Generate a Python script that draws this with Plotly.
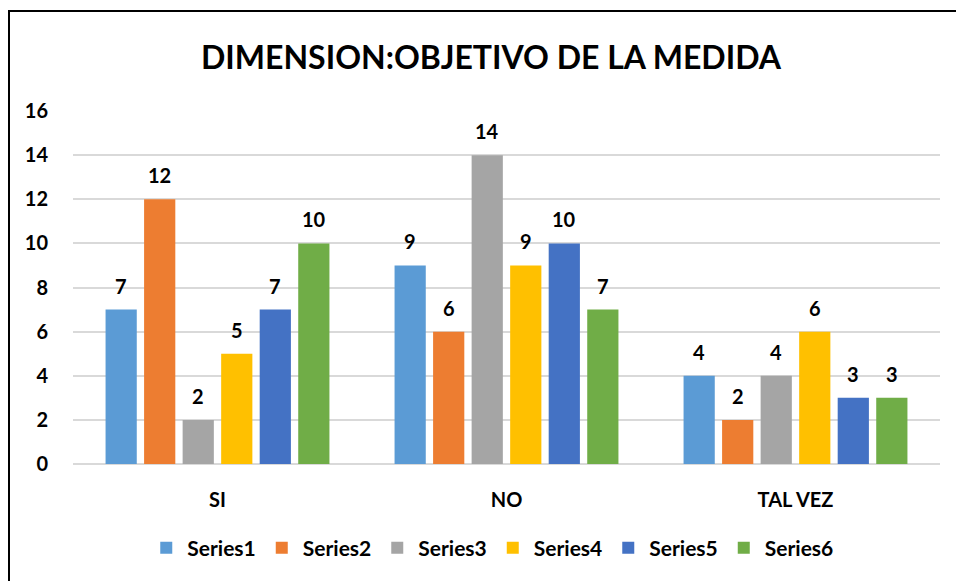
import plotly.graph_objects as go

categories = ["SI", "NO", "TAL VEZ"]
series_names = ["Series1", "Series2", "Series3", "Series4", "Series5", "Series6"]
series1 = [7, 9, 4]
series2 = [12, 6, 2]
series3 = [2, 14, 4]
series4 = [5, 9, 6]
series5 = [7, 10, 3]
series6 = [10, 7, 3]
all_values = [series1, series2, series3, series4, series5, series6]
colors = ["#5B9BD5", "#ED7D31", "#A5A5A5", "#FFC000", "#4472C4", "#70AD47"]
y_ticks = [0, 2, 4, 6, 8, 10, 12, 14, 16]

FONT = "Lato"
PLOT_W = 956 - 73 - 16
BARGAP = 0.2
GROUPGAP = 0.19
n = len(series_names)
slot = PLOT_W / len(categories) * (1 - BARGAP) / n

fig = go.Figure()
annotations = []
for i, (name, vals, col) in enumerate(zip(series_names, all_values, colors)):
    fig.add_trace(go.Bar(
        x=categories, y=vals, name=name,
        marker=dict(color=col, line=dict(width=0)),
    ))
    for c, v in zip(categories, vals):
        annotations.append(dict(
            x=c, y=v, xref="x", yref="y", text=str(v), showarrow=False,
            xshift=(i - (n - 1) / 2) * slot, yshift=24, yanchor="middle",
            font=dict(family=FONT, size=20, color="#000000", weight="bold"),
        ))

fig.update_layout(
    width=956, height=581,
    margin=dict(l=73, r=16, t=111, b=117),
    paper_bgcolor="white", plot_bgcolor="white",
    barmode="group", bargap=BARGAP, bargroupgap=GROUPGAP,
    title=dict(text="<b>DIMENSION:OBJETIVO DE LA MEDIDA</b>",
               x=491/956, xanchor="center", xref="container",
               y=1-58/581, yanchor="middle", yref="container",
               font=dict(family=FONT, size=32, color="#000000")),
    font=dict(family=FONT, color="#000000"),
    showlegend=True,
    legend=dict(orientation="h", x=0.483, xanchor="center", y=-0.238, yanchor="middle",
                font=dict(family=FONT, size=21, color="#000000", weight="bold"),
                itemwidth=32, traceorder="normal"),
    xaxis=dict(showgrid=False, showline=False, zeroline=False,
               ticks="outside", ticklen=18, tickcolor="rgba(0,0,0,0)",
               tickfont=dict(family=FONT, size=20, color="#000000", weight="bold")),
    yaxis=dict(range=[0, 16], tickvals=y_ticks, showgrid=True, gridcolor="#D9D9D9", gridwidth=1.5,
               zeroline=True, zerolinecolor="#D9D9D9", zerolinewidth=2,
               showline=False, ticks="outside", ticklen=20, tickcolor="rgba(0,0,0,0)",
               tickfont=dict(family=FONT, size=20, color="#000000", weight="bold")),
    annotations=annotations,
    shapes=[dict(type="rect", xref="paper", yref="paper",
                 x0=(9-73)/867, x1=1.2, y0=-0.6, y1=(464-11)/353,
                 line=dict(color="#000000", width=2), fillcolor="rgba(0,0,0,0)", layer="above")],
)

fig.write_html("out.html", config={"displayModeBar": False},
               post_script="document.body.style.margin='0';document.body.style.overflow='hidden';")
